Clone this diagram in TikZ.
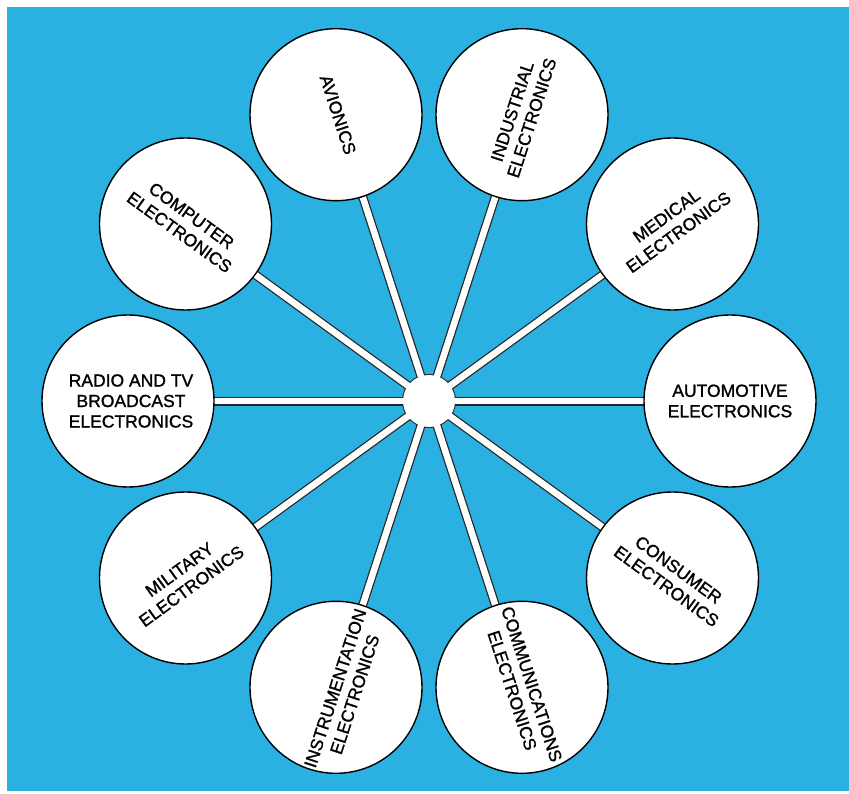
\documentclass[tikz,border=0pt]{standalone}
\usepackage{fontspec}
\setmainfont{Liberation Sans}
\newfontfamily\lblfont{Liberation Sans}[FakeBold=1.2]
\definecolor{bgblue}{RGB}{42,177,226}
\pgfdeclarelayer{bg}
\pgfsetlayers{bg,main}
\begin{document}
\begin{tikzpicture}[x=1pt,y=-1pt,
  bub/.style={circle, draw=black, line width=1.4pt, fill=white, minimum size=172pt, inner sep=0pt},
  lbl/.style={align=center, font=\lblfont\fontsize{17.5}{20.5}\selectfont, inner sep=0pt, text=black},
  spokeout/.style={line width=9pt, draw=black!85},
  spokein/.style={line width=6.5pt, draw=white},
  hubshape/.style={circle, minimum size=52pt, inner sep=0pt}]
\useasboundingbox (0,0) rectangle (849,794);
\node[hubshape] (hub) at (429,401) {};
% outer circles
\node[bub] (auto)  at (730,401)   {};
\node[bub] (med)   at (672.5,224) {};
\node[bub] (ind)   at (522,114.7) {};
\node[bub] (avi)   at (336,114.7) {};
\node[bub] (comp)  at (185.5,224) {};
\node[bub] (radio) at (128,401)   {};
\node[bub] (mil)   at (185.5,578) {};
\node[bub] (instr) at (336,687.3) {};
\node[bub] (comm)  at (522,687.3) {};
\node[bub] (cons)  at (672.5,578) {};
% labels
\node[lbl] (tauto)  at (auto)  {AUTOMOTIVE\\ELECTRONICS};
\node[lbl, rotate=36] (tmed) at (med) {MEDICAL\\ELECTRONICS};
\node[lbl, rotate=72] (tind) at (ind) {INDUSTRIAL\\ELECTRONICS};
\node[lbl, rotate=-72] (tavi) at ([xshift=2pt]avi.center) {AVIONICS};
\node[lbl, rotate=-36] (tcomp) at (comp) {COMPUTER\\ELECTRONICS};
\node[lbl] (tradio) at ([xshift=3pt]radio.center) {RADIO AND TV\\BROADCAST\\ELECTRONICS};
\node[lbl, rotate=36] (tmil) at (mil) {MILITARY\\ELECTRONICS};
\node[lbl, rotate=72] (tinstr) at ([xshift=9pt,yshift=-4pt]instr.center) {INSTRUMENTATION\\ELECTRONICS};
\node[lbl, rotate=-72] (tcomm) at (comm) {COMMUNICATIONS\\ELECTRONICS};
\node[lbl, rotate=-36] (tcons) at (cons) {CONSUMER\\ELECTRONICS};
\begin{pgfonlayer}{bg}
  \fill[white] (0,0) rectangle (849,794);
  \fill[bgblue] (7,7) rectangle (849,791);
  \foreach \n in {auto,med,ind,avi,comp,radio,mil,instr,comm,cons}
    \draw[spokeout] (hub.center) -- (\n.center);
  \fill[black!85] (hub.center) circle[radius=27pt];
  \foreach \n in {auto,med,ind,avi,comp,radio,mil,instr,comm,cons}
    \draw[spokein] (hub.center) -- (\n.center);
  \fill[white] (hub.center) circle[radius=26pt];
\end{pgfonlayer}
\end{tikzpicture}
\end{document}
